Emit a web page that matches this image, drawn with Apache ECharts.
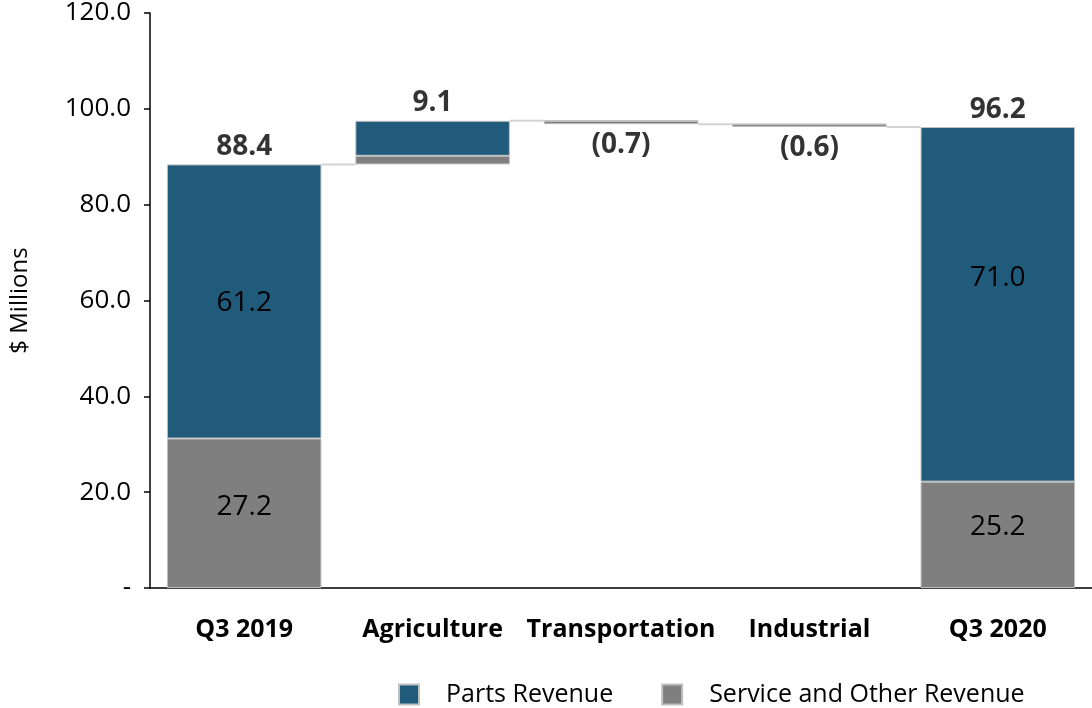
<!DOCTYPE html>
<html>
<head>
<meta charset="utf-8">
<script src="https://cdn.jsdelivr.net/npm/echarts@6/dist/echarts.min.js"></script>
<style>
  html, body { margin: 0; padding: 0; background: #fff; }
  #chart { width: 1092px; height: 708px; }
</style>
</head>
<body>
<div id="chart"></div>
<script>
// ---- data ----
const categories = ['Q3 2019', 'Agriculture', 'Transportation', 'Industrial', 'Q3 2020'];
const baseValues = [0, 88.4, 96.8, 96.2, 0];          // invisible waterfall offset
const serviceValues = [31.2, 1.8, 0.7, 0.6, 22.2];   // grey segment heights as drawn
const partsValues = [57.2, 7.3, 0, 0, 74.0];         // blue segment heights as drawn
const serviceLabels = ['27.2', '', '', '', '25.2'];
const partsLabels = ['61.2', '', '', '', '71.0'];
const totalLabels = ['88.4', '9.1', '(0.7)', '(0.6)', '96.2'];
const isDecrease = [false, false, true, true, false];
const yMin = 0, yMax = 120, yInterval = 20;

// ---- styles ----
const FONT = '"Open Sans", "Noto Sans", sans-serif';
const BLUE = '#215B7C';
const GREY = '#7F7F7F';
const BAR_W = 0.82;
// vertical nudges of in-bar labels (pixels), as placed in the original
const serviceLabelShift = [-6, 0, 0, 0, -8];
const partsLabelShift = [2, 0, 0, 0, -26];

const tops = categories.map((c, i) => baseValues[i] + serviceValues[i] + partsValues[i]);
const anchors = categories.map((c, i) => isDecrease[i] ? baseValues[i] : tops[i]);
const connectorData = categories.slice(0, -1).map((c, i) => [i, anchors[i]]);

const innerLabel = (txt, dy) => ({
  show: txt !== '',
  position: 'inside',
  offset: [0, dy],
  formatter: txt,
  color: '#000',
  fontFamily: FONT,
  fontSize: 28
});

const chart = echarts.init(document.getElementById('chart'), null, { renderer: 'canvas' });
chart.setOption({
  animation: false,
  backgroundColor: '#fff',
  grid: { left: 145, right: 0, top: 12, bottom: 120, containLabel: false },
  legend: {
    data: ['Parts Revenue', 'Service and Other Revenue'],
    left: 393, top: 677,
    icon: 'rect', itemWidth: 20, itemHeight: 20, itemGap: 48,
    textStyle: { fontFamily: FONT, fontSize: 25, color: '#000', padding: [0, 0, 0, 22] }
  },
  xAxis: {
    type: 'category',
    data: categories,
    axisLine: { show: true, lineStyle: { color: '#000', width: 1.5 } },
    axisTick: { show: false },
    axisLabel: { interval: 0, fontFamily: FONT, fontSize: 25, fontWeight: 'bold', color: '#000', margin: 29 }
  },
  yAxis: {
    type: 'value',
    min: yMin, max: yMax, interval: yInterval,
    name: '$ Millions',
    nameLocation: 'middle',
    nameRotate: 90,
    nameGap: 118,
    nameTextStyle: { fontFamily: FONT, fontSize: 24, color: '#000' },
    axisLine: { show: true, lineStyle: { color: '#000', width: 1.5 } },
    axisTick: { show: true, length: 6, lineStyle: { color: '#000', width: 1.5 } },
    splitLine: { show: false },
    axisLabel: {
      fontFamily: FONT, fontSize: 26, color: '#000', margin: 19,
      formatter: v => v === 0 ? '-' : v.toFixed(1)
    }
  },
  series: [
    {
      name: 'base', type: 'bar', stack: 'wf', barWidth: (BAR_W * 100) + '%',
      itemStyle: { color: 'rgba(0,0,0,0)' },
      emphasis: { disabled: true },
      data: baseValues
    },
    {
      name: 'Service and Other Revenue', type: 'bar', stack: 'wf',
      itemStyle: { color: GREY, borderColor: '#bfbfbf', borderWidth: 1 },
      data: serviceValues.map((v, i) => ({ value: v, label: innerLabel(serviceLabels[i], serviceLabelShift[i]) }))
    },
    {
      name: 'Parts Revenue', type: 'bar', stack: 'wf',
      itemStyle: { color: BLUE, borderColor: '#bfbfbf', borderWidth: 1 },
      data: partsValues.map((v, i) => ({ value: v, label: innerLabel(partsLabels[i], partsLabelShift[i]) }))
    },
    {
      name: 'totals', type: 'scatter', symbolSize: 1,
      itemStyle: { color: 'rgba(0,0,0,0)' },
      data: anchors.map((v, i) => ({
        value: [i, v],
        label: {
          show: true,
          formatter: totalLabels[i],
          position: isDecrease[i] ? 'bottom' : 'top',
          distance: isDecrease[i] ? 6 : 3,
          fontFamily: FONT, fontSize: 28, fontWeight: 'bold', color: '#000'
        }
      }))
    },
    {
      name: 'connectors', type: 'custom',
      data: connectorData,
      renderItem: function (params, api) {
        const p = api.coord([api.value(0), api.value(1)]);
        const band = api.size([1, 0])[0];
        const half = band * BAR_W / 2;
        return {
          type: 'line',
          shape: { x1: p[0] + half, y1: p[1], x2: p[0] + band - half, y2: p[1] },
          style: { stroke: '#d4d4d4', lineWidth: 2 }
        };
      },
      z: 1
    }
  ]
});
</script>
</body>
</html>
